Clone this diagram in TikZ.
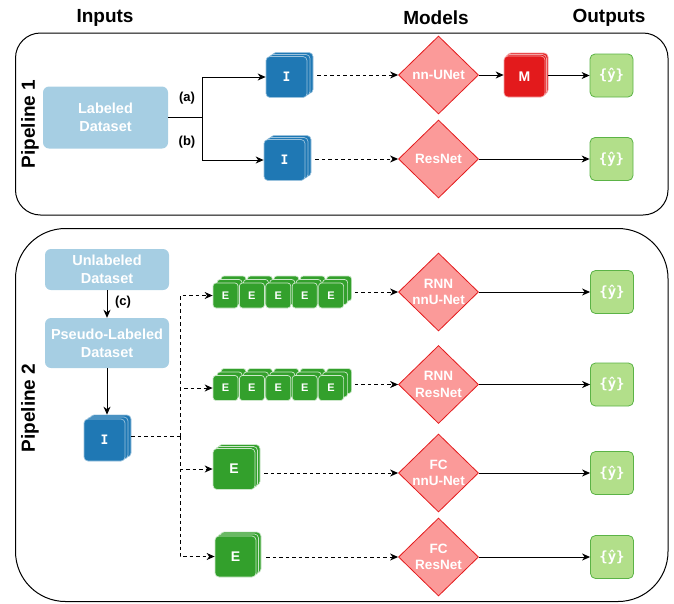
\documentclass[tikz,border=0pt]{standalone}
\usepackage{fontspec}
\setmainfont{Liberation Sans}
\newfontfamily\monofnt{DejaVu Sans Mono}
\usetikzlibrary{shapes.geometric,arrows.meta,calc}
\definecolor{lblue}{HTML}{A6CEE3}
\definecolor{dblue}{HTML}{1F78B4}
\definecolor{dgreen}{HTML}{33A02C}
\definecolor{lgreen}{HTML}{B2DF8A}
\definecolor{ogreen}{HTML}{5BB346}
\definecolor{redA}{HTML}{E31A1C}
\definecolor{pinkA}{HTML}{FB9A99}
\tikzset{
  hdr/.style={font=\fontsize{19}{22}\selectfont\bfseries},
  pipe/.style={draw=black, line width=1pt, rectangle, inner sep=0pt},
  ds/.style={rectangle, fill=lblue, rounded corners=6pt, text=white, font=\fontsize{14.5}{18}\selectfont\bfseries, align=center, inner sep=0pt},
  dia/.style={diamond, draw=redA, fill=pinkA, line width=0.8pt, minimum width=80pt, minimum height=78pt, inner sep=0pt},
  dtext/.style={text=white, font=\fontsize{13.5}{16.5}\selectfont\bfseries, align=center, inner sep=0pt},
  outb/.style={rectangle, rounded corners=5pt, fill=lgreen, draw=ogreen, line width=0.8pt, minimum width=43pt, minimum height=43pt, text=white, font=\monofnt\fontsize{14}{16}\selectfont\bfseries, inner sep=0pt},
  iblk/.style={rectangle, rounded corners=4pt, fill=dblue, draw=dblue!45!white, line width=0.7pt, text=white, font=\monofnt\fontsize{13}{15}\selectfont\bfseries, inner sep=0pt},
  eblk/.style={rectangle, rounded corners=3pt, fill=dgreen, draw=dgreen!25!white, line width=0.7pt, text=white, font=\fontsize{11}{13}\selectfont\bfseries, inner sep=0pt},
  eblkL/.style={eblk, rounded corners=4pt, font=\fontsize{14}{16}\selectfont\bfseries},
  mblk/.style={rectangle, rounded corners=4pt, fill=redA, draw=redA!40!white, line width=0.7pt, text=white, font=\fontsize{14}{16}\selectfont\bfseries, inner sep=0pt},
  plain/.style={draw=black, line width=1pt},
  arr/.style={draw=black, line width=1pt, -{Stealth[length=8pt,width=7pt,inset=2.5pt]}},
  darr/.style={arr, dash pattern=on 3.5pt off 3pt},
  dline/.style={draw=black, line width=1pt, dash pattern=on 3.5pt off 3pt},
  lab/.style={font=\fontsize{13}{15}\selectfont\bfseries, inner sep=0pt},
}
% name, x, y, w, h, style, dx, dy(up), text
\newcommand{\mystk}[9]{%
  \node[#6, minimum width=#4pt, minimum height=#5pt] (#1-b) at (#2+2*#7, #3-2*#8) {};
  \node[#6, minimum width=#4pt, minimum height=#5pt] (#1-m) at (#2+#7, #3-#8) {};
  \node[#6, minimum width=#4pt, minimum height=#5pt] (#1) at (#2,#3) {#9};
}
\begin{document}
\begin{tikzpicture}[x=1pt,y=-1pt]
\useasboundingbox (0,0) rectangle (674,603);
% headers
\node[hdr] (hin) at (105,18) {Inputs};
\node[hdr] (hmo) at (436,18) {Models};
\node[hdr] (hou) at (609,18) {Outputs};
% pipeline frames
\node[pipe, rounded corners=25pt, minimum width=652.5pt, minimum height=182pt] (p1) at (341.75,124) {};
\node[pipe, rounded corners=50pt, minimum width=652.5pt, minimum height=373pt] (p2) at (341.75,415) {};
\node[hdr, rotate=90] (p1l) at (30,124) {Pipeline 1};
\node[hdr, rotate=90] (p2l) at (30,408) {Pipeline 2};

% ---------- Pipeline 1 ----------
\node[ds, minimum width=125pt, minimum height=62pt] (ld) at (105.5,117.5) {Labeled\\Dataset};
\mystk{I1}{286.5}{77}{41}{41}{iblk}{3}{2}{I}
\mystk{I2}{284.5}{160}{41}{41}{iblk}{3}{2}{I}
\node[dia] (d1) at (438.5,75) {};
\node[dtext] (t1) at (d1) {nn-UNet};
\node[dia] (d2) at (438.5,159) {};
\node[dtext] (t2) at (d2) {ResNet};
\mystk{M}{524.5}{76.5}{41}{41}{mblk}{1.5}{1.5}{M}
\node[outb] (o1) at (611.5,75.5) {\{ŷ\}};
\node[outb] (o2) at (611.5,159) {\{ŷ\}};

\coordinate (j1) at ($(ld.east)+(34,0)$);
\draw[plain] (ld.east) -- (j1);
\draw[arr] (j1) |- (I1.west);
\draw[arr] (j1) |- (I2.west);
\node[lab] (la) at (187,98) {(a)};
\node[lab] (lb) at (187,142) {(b)};
\draw[darr] ($(I1-b.east |- d1)+(4,0)$) -- (d1.west);
\draw[darr] ($(I2-b.east |- d2)+(4,0)$) -- (d2.west);
\draw[arr] (d1.east) -- (d1.east -| M.west);
\draw[arr] (M-b.east |- o1) -- (o1.west);
\draw[arr] (d2.east) -- (o2.west);

% ---------- Pipeline 2 ----------
\node[ds, minimum width=124pt, minimum height=41pt] (ud) at (107,269.5) {Unlabeled\\Dataset};
\node[ds, minimum width=124pt, minimum height=50pt] (pd) at (107,343) {Pseudo-Labeled\\Dataset};
\draw[arr] (ud.south) -- (pd.north);
\node[lab] (lc) at (123,302) {(c)};
\mystk{I3}{104.5}{440}{41}{42}{iblk}{3}{2}{I}
\draw[arr] (pd.south) -- (pd.south |- I3-b.north);

\foreach \k [evaluate=\k as \ex using 225.5+26.4*(\k-1)] in {1,...,5} {
  \mystk{Ea\k}{\ex}{295.5}{25}{25}{eblk}{4}{3.5}{E}
}
\foreach \k [evaluate=\k as \ex using 225.5+26.4*(\k-1)] in {1,...,5} {
  \mystk{Eb\k}{\ex}{388}{25}{25}{eblk}{4}{3.5}{E}
}
\mystk{Ec}{234}{469}{42}{41}{eblkL}{2.5}{2}{E}
\mystk{Ed}{235.5}{556.5}{41}{41}{eblkL}{2.5}{2}{E}

\node[dia] (d3) at (438.5,292) {};
\node[dtext] (t3) at (d3) {RNN\\nnU-Net};
\node[dia] (d4) at (438.5,384.5) {};
\node[dtext] (t4) at (d4) {RNN\\ResNet};
\node[dia] (d5) at (438.5,473) {};
\node[dtext] (t5) at (d5) {FC\\nnU-Net};
\node[dia] (d6) at (438.5,557) {};
\node[dtext] (t6) at (d6) {FC\\ResNet};

\node[outb] (o3) at (612,292) {\{ŷ\}};
\node[outb] (o4) at (612,384.5) {\{ŷ\}};
\node[outb] (o5) at (612,473) {\{ŷ\}};
\node[outb] (o6) at (612,557) {\{ŷ\}};

\coordinate (j2) at (180,436);
\draw[dline] (I3-b.east) -- (j2);
\draw[darr] (j2) |- (Ea1.west);
\draw[darr] (j2) |- (Eb1.west);
\draw[darr] (j2) |- (Ec.west);
\draw[darr] (j2) |- (Ed.west);

\draw[darr] ($(Ea5-b.east |- d3)+(3,0)$) -- (d3.west);
\draw[darr] ($(Eb5-b.east |- d4)+(3,0)$) -- (d4.west);
\draw[darr] ($(Ec-b.east |- d5)+(4,0)$) -- (d5.west);
\draw[darr] ($(Ed-b.east |- d6)+(5,0)$) -- (d6.west);

\draw[arr] (d3.east) -- (o3.west);
\draw[arr] (d4.east) -- (o4.west);
\draw[arr] (d5.east) -- (o5.west);
\draw[arr] (d6.east) -- (o6.west);
\end{tikzpicture}
\end{document}
